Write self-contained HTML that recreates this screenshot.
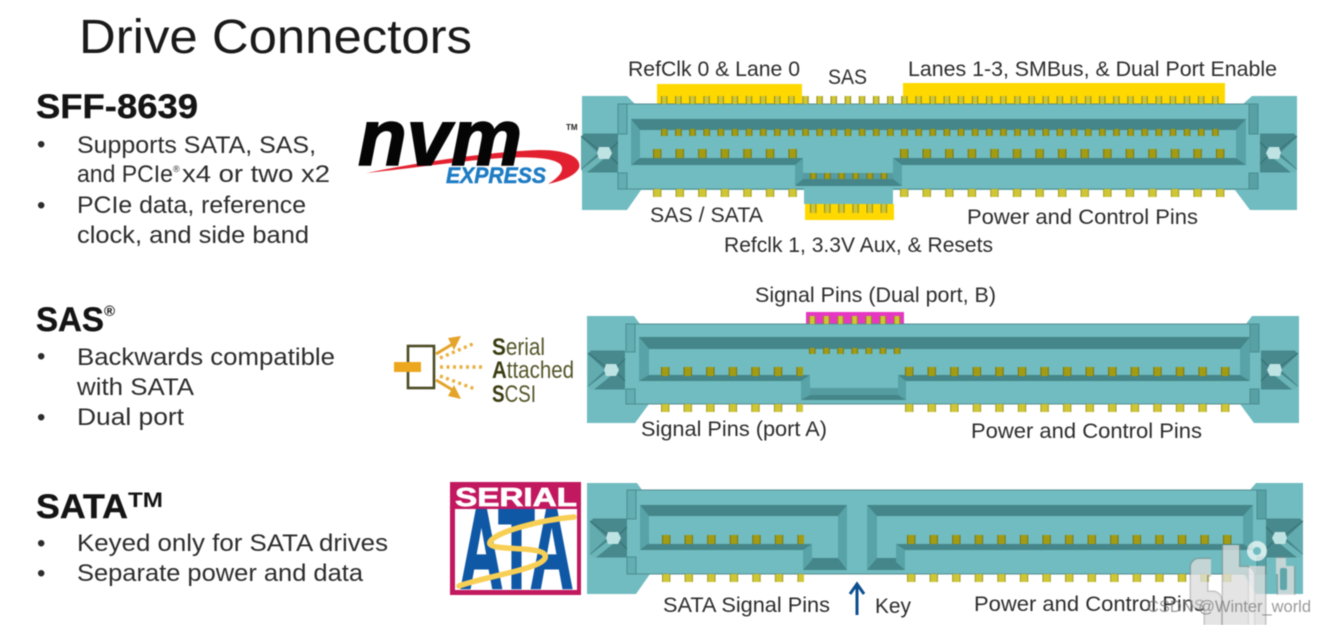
<!DOCTYPE html>
<html><head><meta charset="utf-8"><title>Drive Connectors</title>
<style>
html,body{margin:0;padding:0;background:#fff;width:1326px;height:625px;overflow:hidden}
svg{display:block;filter:blur(.5px)}
text{font-family:"Liberation Sans",sans-serif;fill:#2a2a2a}
.t{font-size:24px;fill:#2c2c2c}
.l{font-size:21px;fill:#2c2c2c}
.h{font-size:34px;font-weight:bold;fill:#141414;stroke:#141414;stroke-width:.4px}
</style></head><body>
<svg width="1326" height="625" viewBox="0 0 1326 625" xmlns="http://www.w3.org/2000/svg">
<defs>
<pattern id="a14" width="14.13" height="40" patternUnits="userSpaceOnUse"><rect x=".5" y="-3" width="5.4" height="50" rx="1" fill="#cfc636" stroke="#8f8a1c" stroke-width="1"/></pattern>
<pattern id="b14" width="14.13" height="40" patternUnits="userSpaceOnUse"><rect x=".5" y="-3" width="5.6" height="50" rx="1" fill="#a39c12" stroke="#77741a" stroke-width="1"/></pattern>
<pattern id="a22" width="22.57" height="40" patternUnits="userSpaceOnUse"><rect x=".5" y="-3" width="7.4" height="50" rx="1" fill="#cfc636" stroke="#a09a28" stroke-width="1"/></pattern>
<pattern id="b22" width="22.57" height="40" patternUnits="userSpaceOnUse"><rect x=".5" y="-3" width="7.4" height="50" rx="1.5" fill="#a39c12" stroke="#77741a" stroke-width="1"/></pattern>
<g id="x">
<path d="M3-19.5H37V19.5H3L0 16V-16Z" fill="#47898d"/>
<path d="M0-16L17 0 0 16Z" fill="#62abaf"/>
<path d="M0 17L18 3 24 5 6 19.5H3Z" fill="#6bb5b8"/>
<path d="M0-17L18-3M30-4L37-11M30 4L37 11" fill="none" stroke="#386f73" stroke-width="1"/>
<path d="M18-6H28L31 0 28 6H18L16 0Z" fill="#bfe3e3"/>
</g>
</defs>

<rect width="1326" height="625" fill="#fff"/>

<!-- left text -->
<text x="79" y="53" font-size="48" textLength="393" lengthAdjust="spacingAndGlyphs" style="fill:#1a1a1a">Drive Connectors</text>

<text class="h" x="36" y="118" textLength="162" lengthAdjust="spacingAndGlyphs">SFF-8639</text>
<text class="t" x="37" y="152">•</text>
<text class="t" x="77" y="153" textLength="239" lengthAdjust="spacingAndGlyphs">Supports SATA, SAS,</text>
<text class="t" x="77" y="182" textLength="96" lengthAdjust="spacingAndGlyphs">and PCIe</text>
<text x="173" y="172" font-size="9" style="fill:#2c2c2c">®</text>
<text class="t" x="182" y="182" textLength="148" lengthAdjust="spacingAndGlyphs">x4 or two x2</text>
<text class="t" x="37" y="213">•</text>
<text class="t" x="77" y="213" textLength="229" lengthAdjust="spacingAndGlyphs">PCIe data, reference</text>
<text class="t" x="77" y="243" textLength="232" lengthAdjust="spacingAndGlyphs">clock, and side band</text>

<text class="h" x="36" y="331" textLength="68" lengthAdjust="spacingAndGlyphs">SAS</text>
<text x="104" y="316" font-size="15" font-weight="bold" style="fill:#141414">®</text>
<text class="t" x="37" y="364">•</text>
<text class="t" x="77" y="365" textLength="258" lengthAdjust="spacingAndGlyphs">Backwards compatible</text>
<text class="t" x="77" y="395" textLength="117" lengthAdjust="spacingAndGlyphs">with SATA</text>
<text class="t" x="37" y="425">•</text>
<text class="t" x="77" y="425" textLength="107" lengthAdjust="spacingAndGlyphs">Dual port</text>

<text class="h" x="36" y="518" textLength="92" lengthAdjust="spacingAndGlyphs">SATA</text>
<text x="128" y="507" font-size="21" font-weight="bold" textLength="35" lengthAdjust="spacingAndGlyphs" style="fill:#141414">TM</text>
<text class="t" x="37" y="551">•</text>
<text class="t" x="77" y="551" textLength="311" lengthAdjust="spacingAndGlyphs">Keyed only for SATA drives</text>
<text class="t" x="37" y="581">•</text>
<text class="t" x="77" y="581" textLength="286" lengthAdjust="spacingAndGlyphs">Separate power and data</text>

<!-- NVM logo -->
<path d="M366 173C430 160 500 151 540 150C568 150 582 158 579 168C575 176 562 181 548 184C558 178 566 170 560 164C548 154 500 157 460 162C425 166 395 170 366 173Z" fill="#e3202f"/>
<text x="358" y="165" font-size="80" font-weight="bold" font-style="italic" textLength="164" lengthAdjust="spacingAndGlyphs" style="fill:#050505;stroke:#050505;stroke-width:1.6px">nvm</text>
<text x="446" y="183" font-size="22" font-weight="bold" font-style="italic" textLength="100" lengthAdjust="spacingAndGlyphs" style="fill:#1d7cc4;stroke:#1d7cc4;stroke-width:.5px">EXPRESS</text>
<text x="566" y="130" font-size="8" font-weight="bold" style="fill:#222">TM</text>

<!-- SAS logo -->
<rect x="408" y="346" width="26" height="42" fill="#fff" stroke="#4a4a22" stroke-width="2.6"/>
<rect x="394" y="362" width="27" height="10" fill="#eca71e"/>
<path d="M436 354L456 342M436 380L456 392" stroke="#e4a42a" stroke-width="3"/>
<path d="M448 338L461 336 454 350ZM448 396L461 399 454 385Z" fill="#e4a42a"/>
<path d="M440 358L475 343M440 376L475 389" stroke="#e8b040" stroke-width="3.4" stroke-dasharray="3 3.5"/>
<path d="M440 367H485" stroke="#e8b040" stroke-width="3.4" stroke-dasharray="3 3.5"/>
<text x="492" y="355" font-size="24" textLength="53" lengthAdjust="spacingAndGlyphs" style="fill:#55552a"><tspan font-weight="bold" style="fill:#3c3c10">S</tspan>erial</text>
<text x="492" y="378" font-size="24" textLength="82" lengthAdjust="spacingAndGlyphs" style="fill:#55552a"><tspan font-weight="bold" style="fill:#3c3c10">A</tspan>ttached</text>
<text x="492" y="402" font-size="24" textLength="44" lengthAdjust="spacingAndGlyphs" style="fill:#55552a"><tspan font-weight="bold" style="fill:#3c3c10">S</tspan>CSI</text>

<!-- SATA logo -->
<rect x="450" y="482" width="131" height="113" fill="#c2185f"/>
<rect x="455" y="509" width="122" height="81" fill="#fff"/>
<text x="455" y="506" font-size="26" font-weight="bold" textLength="122" lengthAdjust="spacingAndGlyphs" style="fill:#fff;stroke:#fff;stroke-width:.7px">SERIAL</text>
<text x="460" y="588" font-size="112" font-weight="bold" textLength="113" lengthAdjust="spacingAndGlyphs" style="fill:#0f58a6;stroke:#0f58a6;stroke-width:3px">ATA</text>
<path d="M574 517C540 520 495 532 490 542C486 552 540 545 545 555C550 568 490 575 459 586" fill="none" stroke="#f8cf55" stroke-width="5.5" stroke-linecap="round"/>

<!-- ============ connector 1 ============ -->
<rect x="657" y="84" width="145" height="20" fill="#ffd800"/>
<rect x="903" y="83" width="322" height="21" fill="#ffd800"/>
<rect x="805" y="204" width="89" height="16" fill="#ffd800"/>
<path d="M582 96H627L635 104H1243L1252 96H1297V210H1250L1235 190H641L627 210H582Z" fill="#70bcc0"/>
<path d="M627 104H1249M627 189H804M893 189H1249" stroke="#558e92" stroke-width="1"/>
<rect x="804" y="189" width="89" height="15" fill="#70bcc0"/>
<path d="M618 104H627V134H618ZM618 173H627V189H618Z" fill="#62aeb2" stroke="#4a8d91" stroke-width="1"/>
<path d="M1249 104H1258V134H1249ZM1249 173H1258V189H1249Z" fill="#57a1a5" stroke="#4a8d91" stroke-width="1"/>
<use href="#x" transform="translate(581,153)"/>
<use href="#x" transform="translate(1297,153) scale(-1,1)"/>
<path d="M631 119H1246V165H902V186H795V165H631Z" fill="#44868a"/>
<path d="M631 119L640 130V158L631 165ZM1246 119L1236 130V158L1246 165Z" fill="#57a3a7"/>
<path d="M795 165L803 158V179L795 186ZM902 165L893 158V179L902 186Z" fill="#57a3a7"/>
<path d="M640 130H1236V158H893V179H803V158H640Z" fill="#70bcc0"/>
<rect x="803" y="173" width="90" height="6" fill="#559ca0"/>
<rect transform="translate(661,96)" width="565" height="8" fill="url(#a14)"/>
<rect transform="translate(661,129)" width="565" height="7" fill="url(#b14)"/>
<rect transform="translate(653,149)" width="158" height="9" fill="url(#b22)"/>
<rect transform="translate(900,149)" width="338" height="9" fill="url(#b22)"/>
<rect transform="translate(653,189)" width="158" height="8" fill="url(#a22)"/>
<rect transform="translate(900,189)" width="338" height="8" fill="url(#a22)"/>
<rect transform="translate(810,173)" width="84" height="6" fill="url(#b14)"/>
<rect transform="translate(810,204)" width="84" height="9" fill="url(#a14)"/>

<text class="l" x="628" y="76" textLength="172" lengthAdjust="spacingAndGlyphs">RefClk 0 &amp; Lane 0</text>
<text class="l" x="828" y="84" textLength="39" lengthAdjust="spacingAndGlyphs">SAS</text>
<text class="l" x="908" y="76" textLength="369" lengthAdjust="spacingAndGlyphs">Lanes 1-3, SMBus, &amp; Dual Port Enable</text>
<text class="l" x="650" y="222" textLength="113" lengthAdjust="spacingAndGlyphs">SAS / SATA</text>
<text class="l" x="967" y="224" textLength="231" lengthAdjust="spacingAndGlyphs">Power and Control Pins</text>
<text class="l" x="724" y="252" textLength="269" lengthAdjust="spacingAndGlyphs">Refclk 1, 3.3V Aux, &amp; Resets</text>

<!-- ============ connector 2 ============ -->
<rect x="806" y="312" width="98" height="12" fill="#e637c2"/>
<path d="M587 316H634L640 324H1246L1252 316H1299V423H1254L1240 404H649L635 423H587Z" fill="#70bcc0"/>
<path d="M634 324H1250M634 404H1250" stroke="#558e92" stroke-width="1"/>
<path d="M626 324H635V352H626ZM626 389H635V404H626Z" fill="#62aeb2" stroke="#4a8d91" stroke-width="1"/>
<path d="M1250 324H1259V352H1250ZM1250 389H1259V404H1250Z" fill="#57a1a5" stroke="#4a8d91" stroke-width="1"/>
<use href="#x" transform="translate(588,370)"/>
<use href="#x" transform="translate(1298,370) scale(-1,1)"/>
<path d="M639 337H1250V381H906V400H801V381H639Z" fill="#44868a"/>
<path d="M639 337L649 349V375L639 381ZM1250 337L1240 349V375L1250 381Z" fill="#57a3a7"/>
<path d="M801 381L810 375V395L801 400ZM906 381L898 375V395L906 400Z" fill="#57a3a7"/>
<path d="M649 349H1240V375H898V388H810V375H649Z" fill="#70bcc0"/>
<rect x="810" y="388" width="88" height="7" fill="#559ca0"/>
<rect transform="translate(809,316)" width="92" height="8" fill="url(#a14)"/>
<rect transform="translate(809,348)" width="92" height="6" fill="url(#b14)"/>
<rect transform="translate(661,367)" width="142" height="9" fill="url(#b22)"/>
<rect transform="translate(905,367)" width="325" height="9" fill="url(#b22)"/>
<rect transform="translate(661,404)" width="142" height="8" fill="url(#a22)"/>
<rect transform="translate(905,404)" width="325" height="8" fill="url(#a22)"/>

<text class="l" x="755" y="302" textLength="241" lengthAdjust="spacingAndGlyphs">Signal Pins (Dual port, B)</text>
<text class="l" x="641" y="436" textLength="186" lengthAdjust="spacingAndGlyphs">Signal Pins (port A)</text>
<text class="l" x="971" y="438" textLength="231" lengthAdjust="spacingAndGlyphs">Power and Control Pins</text>

<!-- ============ connector 3 ============ -->
<path d="M587 483H637L642 490H1250L1256 483H1303V594H1256L1244 574H650L636 594H587Z" fill="#70bcc0"/>
<path d="M635 490H1257M635 574H1257" stroke="#558e92" stroke-width="1"/>
<path d="M627 490H636V519H627ZM627 557H636V574H627Z" fill="#62aeb2" stroke="#4a8d91" stroke-width="1"/>
<path d="M1257 490H1266V519H1257ZM1257 557H1266V574H1257Z" fill="#57a1a5" stroke="#4a8d91" stroke-width="1"/>
<use href="#x" transform="translate(590,538)"/>
<use href="#x" transform="translate(1303,538) scale(-1,1)"/>
<path d="M640 505H847V570H803V550H640Z" fill="#44868a"/>
<path d="M640 505L649 516V543L640 550ZM847 505L838 516V558L847 570ZM803 550L812 544V560L803 570Z" fill="#57a3a7"/>
<path d="M649 516H838V558H812V544H649Z" fill="#70bcc0"/>
<path d="M867 505H1253V550H905V570H867Z" fill="#44868a"/>
<path d="M867 505L877 516V558L867 570ZM1253 505L1243 516V544L1253 550ZM905 550L896 544V562L905 570Z" fill="#57a3a7"/>
<path d="M877 516H1243V544H896V558H877Z" fill="#70bcc0"/>
<rect transform="translate(662,535)" width="142" height="9" fill="url(#b22)"/>
<rect transform="translate(907,535)" width="325" height="9" fill="url(#b22)"/>
<rect transform="translate(662,574)" width="142" height="8" fill="url(#a22)"/>
<rect transform="translate(907,574)" width="325" height="8" fill="url(#a22)"/>

<path d="M857 615V585M850 594L857 584 864 594" fill="none" stroke="#0c4f8f" stroke-width="3"/>
<text class="l" x="663" y="612" textLength="167" lengthAdjust="spacingAndGlyphs">SATA Signal Pins</text>
<text class="l" x="875" y="613" textLength="36" lengthAdjust="spacingAndGlyphs">Key</text>
<text class="l" x="974" y="611" textLength="231" lengthAdjust="spacingAndGlyphs">Power and Control Pins</text>

<!-- watermark -->
<g fill="none" stroke-linejoin="round">
<g stroke="#8a8a8a" stroke-opacity=".5" stroke-width="19">
<path d="M1211 567H1199V600H1213V625"/>
<path d="M1231 545V625M1231 575H1246V625"/>
<path d="M1257 566V625"/>
<path d="M1286 566V595M1276 566H1286"/>
</g>
<g stroke="#fff" stroke-opacity=".55" stroke-width="16">
<path d="M1211 567H1199V600H1213V625"/>
<path d="M1231 545V625M1231 575H1246V625"/>
<path d="M1257 566V625"/>
<path d="M1286 566V595M1276 566H1286"/>
</g>
<circle cx="1257" cy="551" r="7" stroke="#fff" stroke-opacity=".7" stroke-width="6"/>
<rect x="1280" y="568" width="7" height="22" rx="2" stroke="none" fill="#5ea6aa"/>
</g>
<text x="1147" y="612" font-size="16.5" textLength="164" lengthAdjust="spacingAndGlyphs" style="fill:#777;fill-opacity:.75">CSDN @Winter_world</text>
</svg>
</body></html>
